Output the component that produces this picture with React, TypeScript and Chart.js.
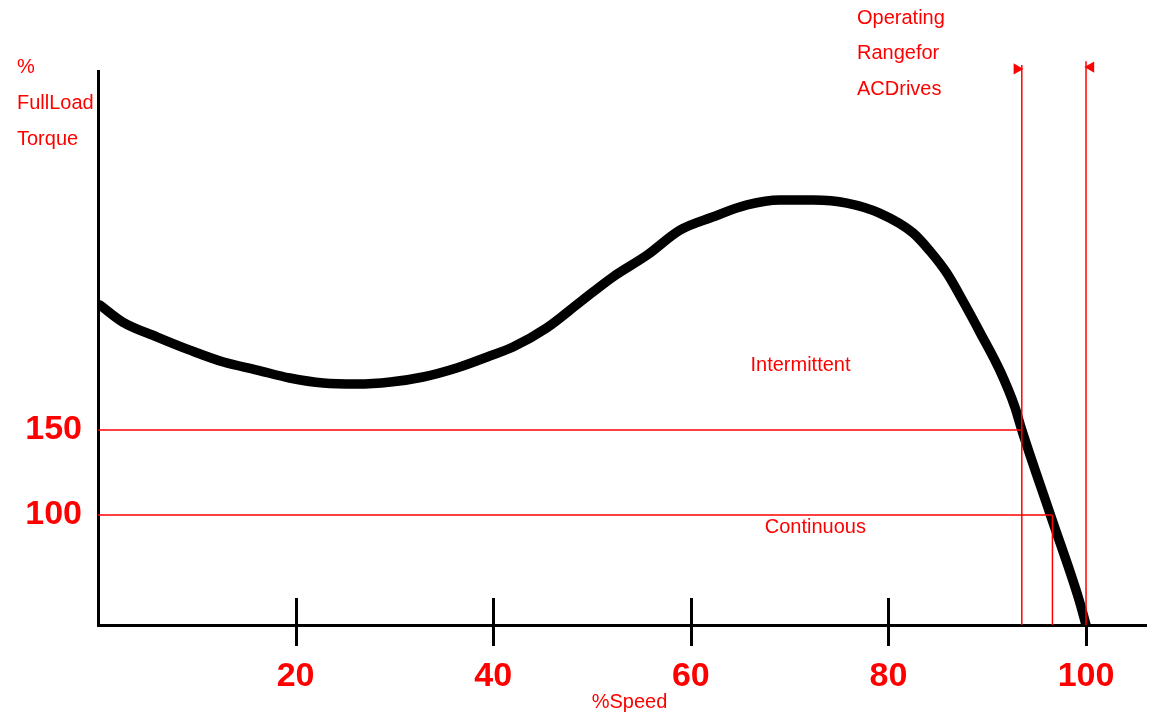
import React, { useEffect, useRef } from "react";
import { Chart, registerables } from "chart.js";

Chart.register(...registerables);

// % speed (x) and % full-load torque (y) of the motor torque curve
const SPEED = [0.2, 2.5, 6.0, 9.3, 12.7, 16.1, 19.4, 22.8, 26.2, 29.6, 32.9, 36.3, 39.4, 42.0, 45.4, 48.8, 52.1, 55.6, 58.9, 62.2, 65.7, 69.0, 72.4, 75.8, 79.1, 82.5, 84.2, 85.9, 87.6, 89.3, 91.4, 92.8, 93.5, 96.4, 99.3, 100];
const TORQUE = [223.5, 213.5, 204.7, 197, 190, 185.3, 180.6, 177.6, 177, 178.2, 181.2, 186.5, 193, 198.8, 210, 225.3, 240, 253, 267.6, 275.3, 282.4, 285.3, 285.3, 283.5, 277.6, 265.9, 255.3, 242.4, 225.3, 207.1, 183.5, 163.5, 150, 100, 50, 35.3];

const X_TICKS = [20, 40, 60, 80, 100];
const Y_TICKS = [100, 150];

const X_MIN = 0;
const X_MAX = 106.07;
const Y_MIN = 35.3;
const Y_MAX = 361.2;

// torque limits and operating range markers
const INTERMITTENT_LIMIT = 150;
const CONTINUOUS_LIMIT = 100;
const RANGE_START = 93.5;
const CONTINUOUS_END = 96.6;
const RANGE_END = 100;
const RANGE_TOP_LEFT = 364.7;
const RANGE_TOP_RIGHT = 367;

const RED = "#ff0000";
const FONT = "'Liberation Sans', Arial, sans-serif";

const tickMarks = {
  id: "tickMarks",
  afterDatasetsDraw(chart: any) {
    const { ctx, scales } = chart;
    const xs = scales.x;
    const base = chart.chartArea.bottom;
    ctx.save();
    ctx.strokeStyle = "#000";
    ctx.lineWidth = 3;
    X_TICKS.forEach((v) => {
      const px = Math.round(xs.getPixelForValue(v)) + 0.5;
      const top = v === RANGE_END ? base : base - 27;
      ctx.beginPath();
      ctx.moveTo(px, top);
      ctx.lineTo(px, base + 21);
      ctx.stroke();
    });
    ctx.restore();
  },
};

const textLabels = {
  id: "textLabels",
  afterDraw(chart: any) {
    const { ctx, scales } = chart;
    const xs = scales.x;
    const ys = scales.y;
    ctx.save();
    ctx.fillStyle = RED;
    ctx.font = `20px ${FONT}`;
    ctx.textBaseline = "middle";
    ctx.textAlign = "left";
    // y-axis caption
    ctx.fillText("%", 17, 67);
    ctx.fillText("FullLoad", 17, 103);
    ctx.fillText("Torque", 17, 139);
    // operating range caption
    ctx.fillText("Operating", 857, 18);
    ctx.fillText("Rangefor", 857, 53);
    ctx.fillText("ACDrives", 857, 89);
    // regions
    ctx.textAlign = "center";
    ctx.fillText("Intermittent", xs.getPixelForValue(71.1), ys.getPixelForValue(188));
    ctx.fillText("Continuous", xs.getPixelForValue(72.6), ys.getPixelForValue(92.4));
    ctx.fillText("%Speed", xs.getPixelForValue(53.8), 702);
    ctx.restore();
  },
};

export default function App() {
  const ref = useRef<HTMLCanvasElement | null>(null);

  useEffect(() => {
    if (!ref.current) return;
    const redLine = (data: { x: number; y: number }[]) => ({
      type: "line" as const,
      data,
      borderColor: RED,
      borderWidth: 1.5,
      pointRadius: 0,
      tension: 0,
      clip: false as any,
    });
    const chart = new Chart(ref.current, {
      type: "line",
      data: {
        datasets: [
          redLine([
            { x: X_MIN, y: INTERMITTENT_LIMIT },
            { x: RANGE_START, y: INTERMITTENT_LIMIT },
          ]),
          redLine([
            { x: X_MIN, y: CONTINUOUS_LIMIT },
            { x: CONTINUOUS_END, y: CONTINUOUS_LIMIT },
          ]),
          redLine([
            { x: RANGE_START, y: Y_MIN },
            { x: RANGE_START, y: RANGE_TOP_LEFT },
          ]),
          redLine([
            { x: CONTINUOUS_END, y: Y_MIN },
            { x: CONTINUOUS_END, y: CONTINUOUS_LIMIT },
          ]),
          redLine([
            { x: RANGE_END, y: Y_MIN },
            { x: RANGE_END, y: RANGE_TOP_RIGHT },
          ]),
          {
            type: "scatter" as any,
            data: [
              { x: RANGE_START - 0.5, y: 362.4 },
              { x: RANGE_END + 0.5, y: 363.5 },
            ],
            pointStyle: "triangle",
            rotation: [90, -90] as any,
            pointRadius: 6.5,
            backgroundColor: RED,
            borderColor: RED,
            borderWidth: 0,
            clip: false as any,
            showLine: false,
          } as any,
          {
            data: SPEED.map((x, i) => ({ x, y: TORQUE[i] })),
            borderColor: "#000",
            borderWidth: 9.5,
            pointRadius: 0,
            cubicInterpolationMode: "monotone",
            borderCapStyle: "round",
            borderJoinStyle: "round",
          } as any,
        ],
      },
      options: {
        animation: false,
        responsive: true,
        maintainAspectRatio: false,
        layout: { padding: { left: 0, top: 71, right: 8, bottom: 0 } },
        plugins: { legend: { display: false }, tooltip: { enabled: false } },
        scales: {
          x: {
            type: "linear",
            min: X_MIN,
            max: X_MAX,
            afterBuildTicks: (s: any) => {
              s.ticks = X_TICKS.map((v) => ({ value: v }));
            },
            afterFit: (s: any) => {
              s.height = 87;
            },
            grid: { display: true, drawOnChartArea: false, drawTicks: false, color: "rgba(0,0,0,0)" },
            border: { display: true, color: "#000", width: 3 },
            ticks: {
              color: RED,
              padding: 31,
              maxRotation: 0,
              autoSkip: false,
              font: { family: FONT, size: 34, weight: "bold" },
            },
          },
          y: {
            type: "linear",
            min: Y_MIN,
            max: Y_MAX,
            afterBuildTicks: (s: any) => {
              s.ticks = Y_TICKS.map((v) => ({ value: v }));
            },
            afterFit: (s: any) => {
              s.width = 98;
            },
            grid: { display: true, drawOnChartArea: false, drawTicks: false, color: "rgba(0,0,0,0)" },
            border: { display: true, color: "#000", width: 3 },
            ticks: {
              color: RED,
              padding: 16,
              autoSkip: false,
              font: { family: FONT, size: 34, weight: "bold" },
            },
          },
        },
      },
      plugins: [tickMarks, textLabels],
    });
    return () => chart.destroy();
  }, []);

  return (
    <div style={{ position: "fixed", left: 0, top: 0, width: 1154, height: 712, background: "#fff" }}>
      <canvas ref={ref} />
    </div>
  );
}
